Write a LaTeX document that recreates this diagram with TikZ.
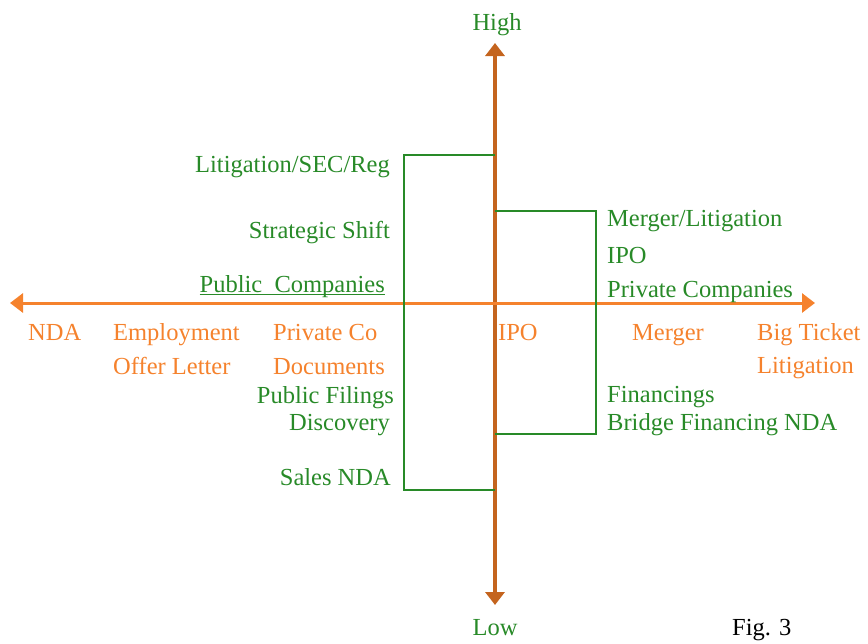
\documentclass[tikz,border=0pt]{standalone}
\usepackage{fontspec}
\setmainfont{Liberation Serif}
\usetikzlibrary{arrows.meta}
\definecolor{grn}{RGB}{40,138,40}
\definecolor{org}{RGB}{245,130,45}
\definecolor{brn}{RGB}{196,100,30}

\begin{document}
\begin{tikzpicture}[x=1pt,y=-1pt,
  every node/.style={inner sep=0pt,font=\fontsize{24.5}{28}\selectfont},
  g/.style={text=grn}, o/.style={text=org},
  box/.style={draw=grn,line width=2pt},
  >={Triangle[length=13pt,width=19pt]}]
  \useasboundingbox (0,0) rectangle (868,643);
  % axes
  \coordinate (l) at (10,303);  \coordinate (r) at (815,303);
  \coordinate (t) at (495,43);  \coordinate (b) at (495,605);
  \draw[brn,line width=3.5pt,<->] (b) -- (t);
  \draw[org,line width=3pt,<->] (l) -- (r);
  % brackets
  \coordinate (lt) at (404,155); \coordinate (lb) at (404,490);
  \coordinate (rt) at (596,211); \coordinate (rb) at (596,434);
  \coordinate (t1) at (495,155); \coordinate (b1) at (495,490);
  \coordinate (t2) at (495,211); \coordinate (b2) at (495,434);
  \draw[box] (t1) -- (lt) -- (lb) -- (b1);
  \draw[box] (t2) -- (rt) -- (rb) -- (b2);
  % ends of the vertical axis
  \node[g,anchor=base] (hi) at (497,30) {High};
  \node[g,anchor=base] (lo) at (495,635) {Low};
  % left side
  \node[g,anchor=base east] (lit) at (390,172) {Litigation/SEC/Reg};
  \node[g,anchor=base east] (strat) at (390,238) {Strategic Shift};
  \node[g,anchor=base east] (pubco) at (385,292) {Public\ \ Companies};
  \draw[grn,line width=1.2pt] ([yshift=-2.5pt]pubco.base west) -- ([yshift=-2.5pt]pubco.base east);
  \node[o,anchor=base west] (nda) at (28,340) {NDA};
  \node[o,anchor=base west] (emp) at (113,340) {Employment};
  \node[o,anchor=base west] (offer) at (113,374) {Offer Letter};
  \node[o,anchor=base west] (pco) at (273,340) {Private Co};
  \node[o,anchor=base west] (docs) at (273,374) {Documents};
  \node[g,anchor=base east] (filings) at (394,403) {Public Filings};
  \node[g,anchor=base east] (disc) at (390,430) {Discovery};
  \node[g,anchor=base east] (sales) at (391,485) {Sales NDA};
  % right side
  \node[o,anchor=base west] (ipo) at (498,340) {IPO};
  \node[o,anchor=base west] (merger) at (632,340) {Merger};
  \node[o,anchor=base west] (big) at (757,340) {Big Ticket};
  \node[o,anchor=base west] (bigl) at (757,373) {Litigation};
  \node[g,anchor=base west] (mlit) at (607,226) {Merger/Litigation};
  \node[g,anchor=base west] (ipo2) at (607,263) {IPO};
  \node[g,anchor=base west] (prco) at (607,297) {Private Companies};
  \node[g,anchor=base west] (fin) at (607,402) {Financings};
  \node[g,anchor=base west] (bridge) at (607,430) {Bridge Financing NDA};
  \node[anchor=base west] (fig) at (732,635) {Fig. 3};
\end{tikzpicture}
\end{document}
